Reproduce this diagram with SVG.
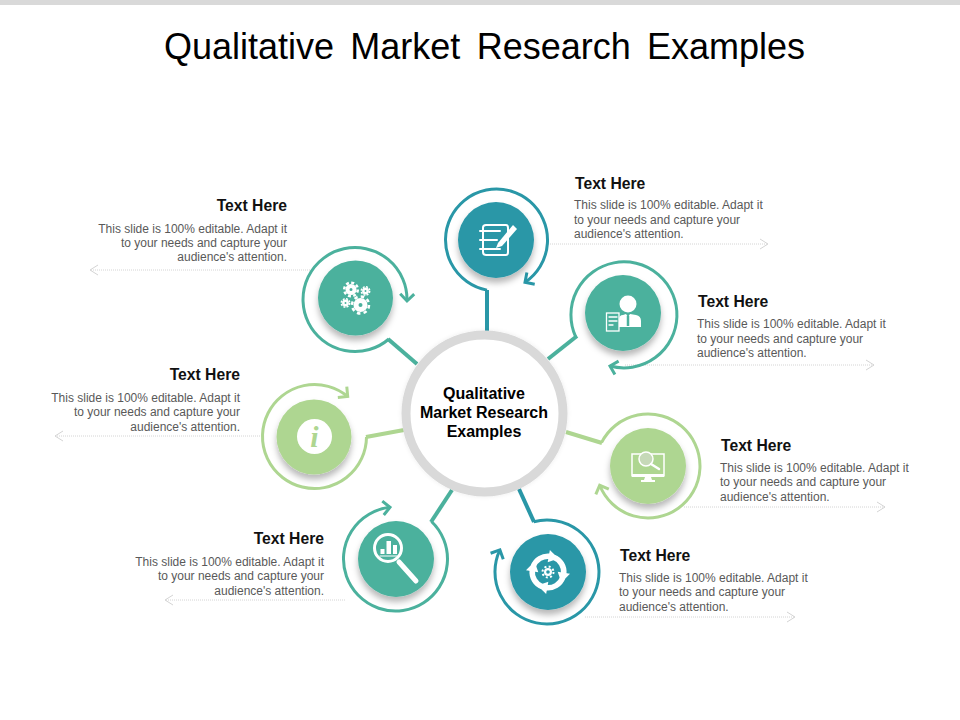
<svg xmlns="http://www.w3.org/2000/svg" width="960" height="720" viewBox="0 0 960 720">
<style>
text{font-family:"Liberation Sans",Arial,sans-serif}
.title{font-size:36px;word-spacing:6.300px;fill:#000}
.h{font-size:15.700px;font-weight:bold;fill:#111}
.b{font-size:12px;fill:#595959}
.e{text-anchor:end}
.c{font-size:16px;font-weight:bold;fill:#000;text-anchor:middle}
.ring{fill:none;stroke-width:3}
.spoke{fill:none;stroke-width:4}
.lead{fill:none;stroke:#d4d4d4;stroke-width:1;stroke-dasharray:1 1}
.ar{fill:none;stroke:#d4d4d4;stroke-width:1}
.t{stroke:#2997a7}.g{stroke:#4bb19d}.l{stroke:#aed691}
.ft{fill:#2997a7}.fg{fill:#4bb19d}.fl{fill:#aed691}
.i{fill:#fff}
.is{fill:none;stroke:#fff;stroke-width:2;stroke-linecap:round}
</style>
<defs>
<filter id="sh" x="-30%" y="-30%" width="160%" height="170%"><feDropShadow dx="0" dy="5" stdDeviation="3" flood-color="#000" flood-opacity="0.28"/></filter>
<filter id="sh2" x="-20%" y="-20%" width="140%" height="140%"><feDropShadow dx="0" dy="0" stdDeviation="2" flood-color="#000" flood-opacity="0.08"/></filter>
<marker id="mt" markerUnits="userSpaceOnUse" markerWidth="20" markerHeight="20" refX="11" refY="10" orient="auto"><path d="M4 3 L11 10 L4 17" fill="none" stroke="#2997a7" stroke-width="3"/></marker>
<marker id="mg" markerUnits="userSpaceOnUse" markerWidth="20" markerHeight="20" refX="11" refY="10" orient="auto"><path d="M4 3 L11 10 L4 17" fill="none" stroke="#4bb19d" stroke-width="3"/></marker>
<marker id="ml" markerUnits="userSpaceOnUse" markerWidth="20" markerHeight="20" refX="11" refY="10" orient="auto"><path d="M4 3 L11 10 L4 17" fill="none" stroke="#aed691" stroke-width="3"/></marker>
<g id="cyc"><path d="M-15.500 -3A15.800 15.800 0 0 1 -1 -15.800" fill="none" stroke="#fff" stroke-width="5.500"/><path d="M-2 -22L-2 -9.500L8 -15Z" fill="#fff"/></g>
</defs>
<rect x="0" y="0" width="960" height="5" fill="#d9d9d9"/>
<text class="title" x="484.500" y="59" text-anchor="middle">Qualitative Market Research Examples</text>

<g id="connectors">
<path class="spoke t" d="M487 290V331"/>
<path class="spoke g" d="M577 336L548 359"/>
<path class="spoke l" d="M602 443L566 432"/>
<path class="spoke t" d="M534 522L519 489"/>
<path class="spoke g" d="M431 522L452 490"/>
<path class="spoke l" d="M366 437L404 430"/>
<path class="spoke g" d="M388 339L417 364"/>
</g>

<g id="hub">
<circle cx="484.500" cy="413.500" r="78.500" fill="#fff" stroke="#d9d9d9" stroke-width="9" filter="url(#sh2)"/>
<text class="c" x="484" y="399">Qualitative</text>
<text class="c" x="484" y="418">Market Research</text>
<text class="c" x="484" y="437">Examples</text>
</g>

<g id="node-top">
<path class="lead" d="M548 244H768"/><path class="ar" d="M760 239L768 244L760 249"/>
<path class="ring t" d="M487 290.100A51 51 0 1 1 525 282.300" marker-end="url(#mt)"/>
<circle class="ft" cx="496" cy="240" r="38" filter="url(#sh)"/>
<g class="is">
<path d="M483 227.500Q483 225 486 225H506Q508 225 508 228V252Q508 255 506 255H486Q483 255 483 252Z"/>
<path d="M480 231H500M480 240H497M480 249H500"/>
</g>
<path class="i" d="M498 243L513 225L517 229L502 246L496 248Z"/>
<text class="h" x="575" y="189">Text Here</text>
<text class="b" x="574" y="209">This slide is 100% editable. Adapt it</text>
<text class="b" x="574" y="224">to your needs and capture your</text>
<text class="b" x="574" y="238">audience's attention.</text>
</g>

<g id="node-person">
<path class="lead" d="M625 365H874"/><path class="ar" d="M866 360L874 365L866 370"/>
<path class="ring g" d="M575.600 336.600A53 53 0 1 1 610 366" marker-end="url(#mg)"/>
<circle class="fg" cx="623" cy="313" r="38" filter="url(#sh)"/>
<circle class="i" cx="628" cy="304" r="8.500"/>
<path class="i" d="M619 327V320Q619 315 623 315L626 314L628 317L630 314L636 315Q641 316 641 321V327Z"/>
<path d="M628 316V326" stroke="#4bb19d" stroke-width="2.500"/>
<g class="is" style="stroke-width:1.300">
<rect x="606.500" y="313" width="12.500" height="18" fill="#4bb19d"/>
<path d="M609 317H617M609 321H617M609 325H613"/>
</g>
<text class="h" x="698" y="307">Text Here</text>
<text class="b" x="697" y="328">This slide is 100% editable. Adapt it</text>
<text class="b" x="697" y="343">to your needs and capture your</text>
<text class="b" x="697" y="357">audience's attention.</text>
</g>

<g id="node-monitor">
<path class="lead" d="M684 507H885"/><path class="ar" d="M877 502L885 507L877 512"/>
<path class="ring l" d="M601.500 442.700A52 52 0 1 1 599.700 485.300" marker-end="url(#ml)"/>
<circle class="fl" cx="648" cy="466" r="38" filter="url(#sh)"/>
<path class="is" style="stroke-width:1.500" d="M632 476V454H664V476"/>
<path class="i" d="M632 474H664V477H632ZM645 477H651L652 480H655V482H641V480H644Z"/>
<circle cx="646" cy="459" r="7" fill="#c6d9b8" stroke="#fff" stroke-width="1.500"/>
<path class="is" style="stroke-width:2.500" d="M651 464L659 469"/>
<text class="h" x="721" y="451">Text Here</text>
<text class="b" x="720" y="472">This slide is 100% editable. Adapt it</text>
<text class="b" x="720" y="486">to your needs and capture your</text>
<text class="b" x="720" y="501">audience's attention.</text>
</g>

<g id="node-cycle">
<path class="lead" d="M585 617H795"/><path class="ar" d="M787 612L795 617L787 622"/>
<path class="ring t" d="M533.700 521.700A52 52 0 1 1 499.900 549.900" marker-end="url(#mt)"/>
<circle class="ft" cx="548" cy="572" r="38" filter="url(#sh)"/>
<use href="#cyc" transform="translate(548 572) rotate(10)"/>
<use href="#cyc" transform="translate(548 572) rotate(100)"/>
<use href="#cyc" transform="translate(548 572) rotate(190)"/>
<use href="#cyc" transform="translate(548 572) rotate(280)"/>
<circle cx="548" cy="572" r="4" fill="#fff"/><circle cx="548" cy="572" r="1.800" fill="#2997a7"/>
<circle cx="548" cy="572" r="5.500" fill="none" stroke="#fff" stroke-width="2" stroke-dasharray="2 2.320"/>
<text class="h" x="620" y="561">Text Here</text>
<text class="b" x="619" y="582">This slide is 100% editable. Adapt it</text>
<text class="b" x="619" y="596">to your needs and capture your</text>
<text class="b" x="619" y="611">audience's attention.</text>
</g>

<g id="node-chart">
<path class="lead" d="M345 600H165"/><path class="ar" d="M173 595L165 600L173 605"/>
<path class="ring g" d="M431.500 521.500A52 52 0 1 1 390 507.300" marker-end="url(#mg)"/>
<circle class="fg" cx="396" cy="559" r="38" filter="url(#sh)"/>
<circle cx="388" cy="548" r="13.500" fill="none" stroke="#fff" stroke-width="3"/>
<path class="is" style="stroke-width:5" d="M399 562L416 581"/>
<path class="i" d="M380.500 549H384.500V554H380.500ZM386.500 541H391V554H386.500ZM393 545H397V554H393Z"/>
<path class="is" style="stroke-width:1" d="M380 556H397"/>
<text class="h e" x="324" y="544">Text Here</text>
<text class="b e" x="324" y="566">This slide is 100% editable. Adapt it</text>
<text class="b e" x="324" y="580">to your needs and capture your</text>
<text class="b e" x="324" y="595">audience's attention.</text>
</g>

<g id="node-info">
<path class="lead" d="M262 436H55"/><path class="ar" d="M63 431L55 436L63 441"/>
<path class="ring l" d="M366.500 437A52 52 0 1 1 347.700 396.500" marker-end="url(#ml)"/>
<circle class="fl" cx="314" cy="437" r="37.500" filter="url(#sh)"/>
<circle class="i" cx="314.500" cy="436.500" r="17.500"/>
<text x="314.500" y="447" text-anchor="middle" style="font-family:'Liberation Serif',serif;font-style:italic;font-weight:bold;font-size:30px;fill:#aed691">i</text>
<text class="h e" x="240" y="380">Text Here</text>
<text class="b e" x="240" y="402">This slide is 100% editable. Adapt it</text>
<text class="b e" x="240" y="416">to your needs and capture your</text>
<text class="b e" x="240" y="431">audience's attention.</text>
</g>

<g id="node-gears">
<path class="lead" d="M310 270H90"/><path class="ar" d="M98 265L90 270L98 275"/>
<path class="ring g" d="M388.900 339A52 52 0 1 1 407 301" marker-end="url(#mg)"/>
<circle class="fg" cx="355.500" cy="298" r="37.500" filter="url(#sh)"/>
<g fill="#4bb19d" stroke="#fff">
<circle cx="351" cy="289.500" r="3.500" stroke-width="4"/>
<circle cx="351" cy="289.500" r="6.800" fill="none" stroke-width="2.500" stroke-dasharray="3 2.340"/>
<circle cx="365.500" cy="291" r="2.200" stroke-width="2.500"/>
<circle cx="365.500" cy="291" r="4.200" fill="none" stroke-width="1.500" stroke-dasharray="2 1.300"/>
<circle cx="345.500" cy="303" r="2.200" stroke-width="2.500"/>
<circle cx="345.500" cy="303" r="4.200" fill="none" stroke-width="1.500" stroke-dasharray="2 1.300"/>
<circle cx="360.500" cy="305" r="4.500" stroke-width="5"/>
<circle cx="360.500" cy="305" r="8.500" fill="none" stroke-width="2.500" stroke-dasharray="3.500 3.170"/>
</g>
<text class="h e" x="287" y="211">Text Here</text>
<text class="b e" x="287" y="233">This slide is 100% editable. Adapt it</text>
<text class="b e" x="287" y="247">to your needs and capture your</text>
<text class="b e" x="287" y="261">audience's attention.</text>
</g>
</svg>
